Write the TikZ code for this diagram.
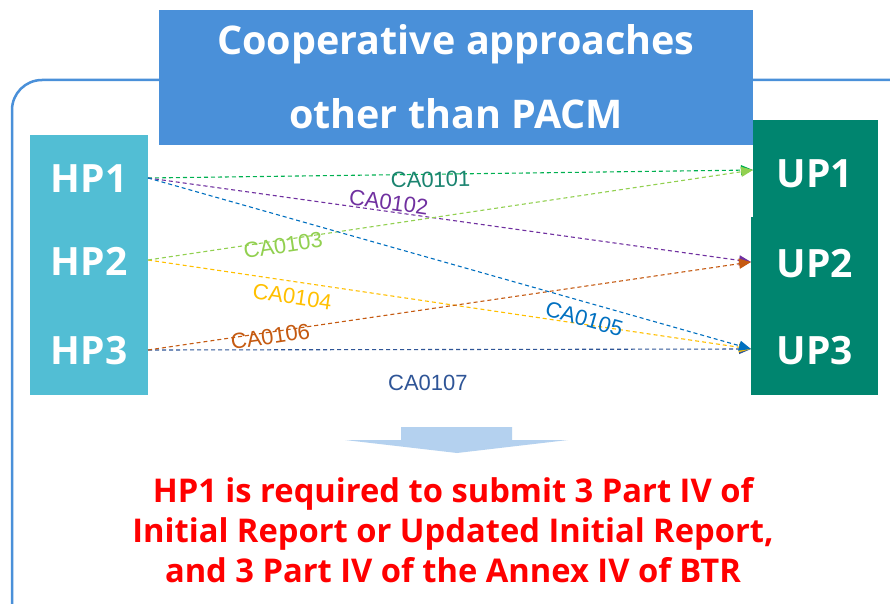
\documentclass[tikz,border=0pt]{standalone}
\usepackage{fontspec}
\setmainfont{Liberation Sans}
\newfontfamily\boldface{Open Sans}[BoldFont={* Bold}]
\usetikzlibrary{arrows.meta}
\definecolor{titleblue}{HTML}{4A90D9}
\definecolor{hpblue}{HTML}{52BED4}
\definecolor{upgreen}{HTML}{00856F}
\definecolor{cGreen}{HTML}{00B050}
\definecolor{cGreenLbl}{HTML}{1B8470}
\definecolor{cPurple}{HTML}{7030A0}
\definecolor{cLight}{HTML}{92D050}
\definecolor{cYellow}{HTML}{FFC000}
\definecolor{cBlue}{HTML}{0070C0}
\definecolor{cOrange}{HTML}{C55A11}
\definecolor{cDark}{HTML}{2F5597}
\definecolor{arrowfill}{HTML}{B4D1EF}
\definecolor{redtxt}{HTML}{FF0000}
\begin{document}
\begin{tikzpicture}[x=1pt,y=-1pt,
  boxfill/.style={draw=none,inner sep=0pt,anchor=north west},
  bigtext/.style={text=white,font=\boldface\bfseries\fontsize{39.5}{42}\selectfont,inner sep=0pt,anchor=base},
  hptext/.style={text=white,font=\boldface\bfseries\fontsize{39}{40}\selectfont,inner sep=0pt,anchor=base},
  redline/.style={text=redtxt,font=\boldface\bfseries\fontsize{32.7}{36}\selectfont,inner sep=0pt,anchor=base},
  conn/.style={line width=1.1pt,dash pattern=on 4pt off 3pt,-{Triangle[length=12pt,width=10pt]}},
  lbl/.style={font=\fontsize{22}{24}\selectfont,inner sep=0pt,sloped}
]
\useasboundingbox (0,0) rectangle (890,604);
\clip (0,0) rectangle (890,604);
\fill[white] (0,0) rectangle (890,604);
% outer frame
\draw[titleblue,line width=2.5pt,rounded corners=30pt] (12,80) rectangle (925,640);
% title box
\node[boxfill,fill=titleblue,minimum width=594pt,minimum height=135pt] (titlebox) at (159,10) {};
\node[bigtext] (t1) at (456,55) {Cooperative approaches};
\node[bigtext] (t2) at (456,129) {other than PACM};
% HP column
\node[boxfill,fill=hpblue,minimum width=118pt,minimum height=260pt] (hpbox) at (30,135) {};
\node[hptext] (hp1) at (89,192) {HP1};
\node[hptext] (hp2) at (89,275) {HP2};
\node[hptext] (hp3) at (89,364) {HP3};
% UP column
\node[boxfill,fill=upgreen,minimum width=125pt,minimum height=98pt] (upbox1) at (753,120) {};
\node[boxfill,fill=upgreen,minimum width=127pt,minimum height=178pt] (upbox2) at (751,217) {};
\node[hptext] (up1) at (815,187) {UP1};
\node[hptext] (up2) at (815,277) {UP2};
\node[hptext] (up3) at (815,364) {UP3};
% connector ends
\coordinate (hp1o) at (148,178);
\coordinate (hp2o) at (148,260);
\coordinate (hp3o) at (148,350);
\coordinate (up1i) at (753,170);
\coordinate (up2i) at (751,262);
\coordinate (up3i) at (751,349);
% connectors
\draw[conn,cGreen] (hp1o) -- node[lbl,text=cGreenLbl,pos=0.467,below=-3pt] {CA0101} (up1i);
\draw[conn,cPurple] (hp1o) -- node[lbl,text=cPurple,pos=0.397,above=1pt] {CA0102} (up2i);
\draw[conn,cDark] (hp3o) -- node[lbl,text=cDark,pos=0.464,below=25pt] {CA0107} (up3i);
\draw[conn,cYellow] (hp2o) -- node[lbl,text=cYellow,pos=0.243,below=7pt] {CA0104} (up3i);
\draw[conn,cLight] (hp2o) -- node[lbl,text=cLight,pos=0.222,below=-3pt] {CA0103} (up1i);
\draw[conn,cOrange] (hp3o) -- node[lbl,text=cOrange,pos=0.202,below=-4pt] {CA0106} (up2i);
\draw[conn,cBlue] (hp1o) -- node[lbl,text=cBlue,pos=0.731,below=8pt] {CA0105} (up3i);
% down arrow
\fill[arrowfill] (401,427) -- (512,427) -- (512,440) -- (568,440) -- (457,453) -- (345,440) -- (401,440) -- cycle;
% conclusion
\node[redline] (r1) at (453,502) {HP1 is required to submit 3 Part IV of};
\node[redline] (r2) at (453,542) {Initial Report or Updated Initial Report,};
\node[redline] (r3) at (453,582) {and 3 Part IV of the Annex IV of BTR};
\end{tikzpicture}
\end{document}
